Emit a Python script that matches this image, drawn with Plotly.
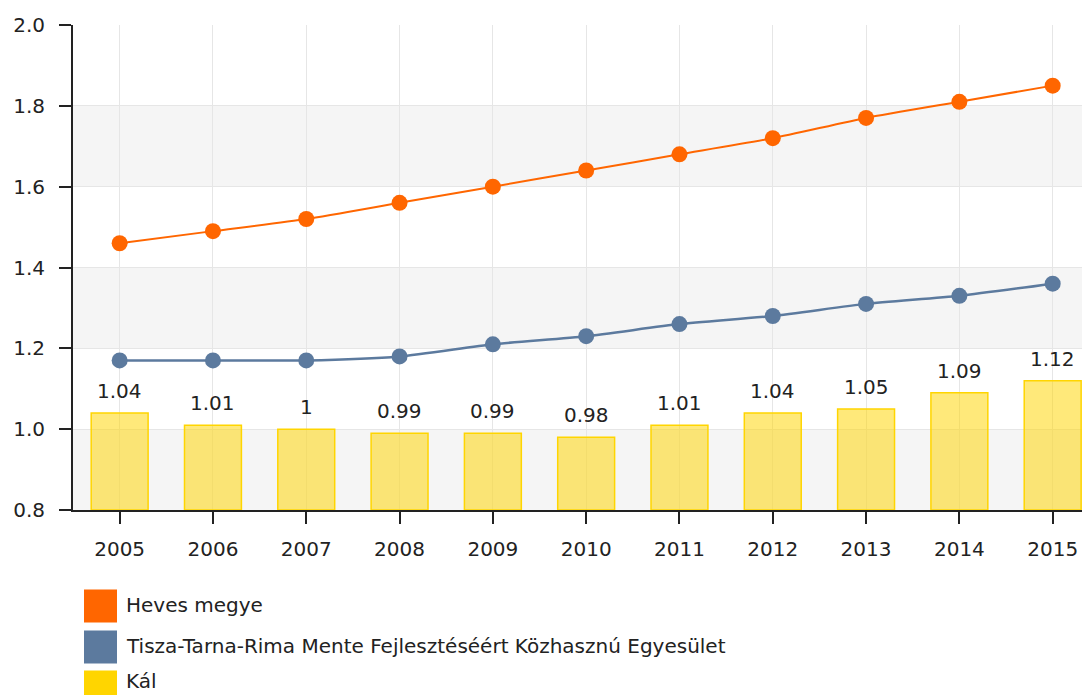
import plotly.graph_objects as go

years = ["2005", "2006", "2007", "2008", "2009", "2010", "2011", "2012", "2013", "2014", "2015"]
heves = [1.46, 1.49, 1.52, 1.56, 1.60, 1.64, 1.68, 1.72, 1.77, 1.81, 1.85]
tisza = [1.17, 1.17, 1.17, 1.18, 1.21, 1.23, 1.26, 1.28, 1.31, 1.33, 1.36]
kal = [1.04, 1.01, 1.00, 0.99, 0.99, 0.98, 1.01, 1.04, 1.05, 1.09, 1.12]
kal_labels = ["1.04", "1.01", "1", "0.99", "0.99", "0.98", "1.01", "1.04", "1.05", "1.09", "1.12"]
y_ticks = [0.8, 1.0, 1.2, 1.4, 1.6, 1.8, 2.0]
series_names = ["Heves megye", "Tisza-Tarna-Rima Mente Fejlesztéséért Közhasznú Egyesület", "Kál"]
series_colors = ["#FF6600", "#5C7A9E", "#FFD500"]

FONT = "DejaVu Sans"
TXT = "#222222"

# page body has an 8px margin; figure coordinates are page coordinates minus 8
OFF = 8
W, H = 1082, 687
ML, MT, PH = 65, 17, 485
MB = H - MT - PH
PW = W - ML

fig = go.Figure()

fig.add_trace(go.Bar(
    x=years, y=[v - 0.8 for v in kal], base=0.8, name=series_names[2],
    width=0.61,
    marker=dict(color="rgba(255,213,0,0.52)", line=dict(color="#FFD500", width=1.5)),
    showlegend=False,
))

fig.add_trace(go.Scatter(
    x=years, y=tisza, name=series_names[1], mode="lines+markers",
    line=dict(color=series_colors[1], width=2.5, shape="spline", smoothing=0.6),
    marker=dict(size=16, color=series_colors[1]),
    showlegend=False,
))
fig.add_trace(go.Scatter(
    x=years, y=heves, name=series_names[0], mode="lines+markers",
    line=dict(color=series_colors[0], width=2, shape="spline", smoothing=0.6),
    marker=dict(size=16, color=series_colors[0]),
    showlegend=False,
))

# bar value labels (category index positions)
for i, (v, lab) in enumerate(zip(kal, kal_labels)):
    fig.add_annotation(x=i, y=v, xref="x", yref="y", text=lab, showarrow=False,
                       yanchor="bottom", yshift=8,
                       font=dict(family=FONT, size=20, color=TXT))

# alternating bands
shapes = []
for i in range(0, len(y_ticks) - 1, 2):
    shapes.append(dict(type="rect", xref="paper", yref="y", x0=0, x1=1,
                       y0=y_ticks[i], y1=y_ticks[i + 1], fillcolor="#F5F5F5",
                       line=dict(width=0), layer="below"))


def px_x(page_x):
    return (page_x - OFF - ML) / PW


def px_y(page_y):
    return (MT + PH - (page_y - OFF)) / PH


# custom legend
leg_y = [606, 647, 687]
txt_y = [605, 646, 681]
for name, col, yc, ty in zip(series_names, series_colors, leg_y, txt_y):
    shapes.append(dict(type="rect", xref="paper", yref="paper",
                       x0=px_x(84), x1=px_x(117),
                       y0=px_y(yc + 16.5), y1=px_y(yc - 16.5),
                       fillcolor=col, line=dict(width=0)))
    fig.add_annotation(xref="paper", yref="paper", x=px_x(124),
                       y=px_y(ty), text=name, showarrow=False,
                       xanchor="left", yanchor="middle",
                       font=dict(family=FONT, size=20, color=TXT))

fig.update_layout(
    width=W, height=H,
    margin=dict(l=ML, r=0, t=MT, b=MB),
    plot_bgcolor="white", paper_bgcolor="white",
    shapes=shapes, showlegend=False,
    font=dict(family=FONT, size=20, color=TXT),
)
fig.update_xaxes(
    type="category", range=[-0.5, 10.4],
    showgrid=True, gridcolor="#E6E6E6", gridwidth=1,
    showline=True, linecolor="#222222", linewidth=2,
    ticks="outside", ticklen=12, tickcolor="#222222", tickwidth=2,
    ticklabelstandoff=8,
    tickfont=dict(family=FONT, size=20, color=TXT),
)
fig.update_yaxes(
    range=[0.8, 2.0], tickvals=y_ticks, ticktext=[f"{v:.1f}" for v in y_ticks],
    showgrid=True, gridcolor="#E6E6E6", gridwidth=1, zeroline=False,
    showline=True, linecolor="#222222", linewidth=2,
    ticks="outside", ticklen=12, tickcolor="#222222", tickwidth=2,
    ticklabelstandoff=10,
    tickfont=dict(family=FONT, size=20, color=TXT),
)

fig.write_html(
    "out.html",
    post_script="document.documentElement.style.overflow='hidden';document.body.style.overflow='hidden';",
)
